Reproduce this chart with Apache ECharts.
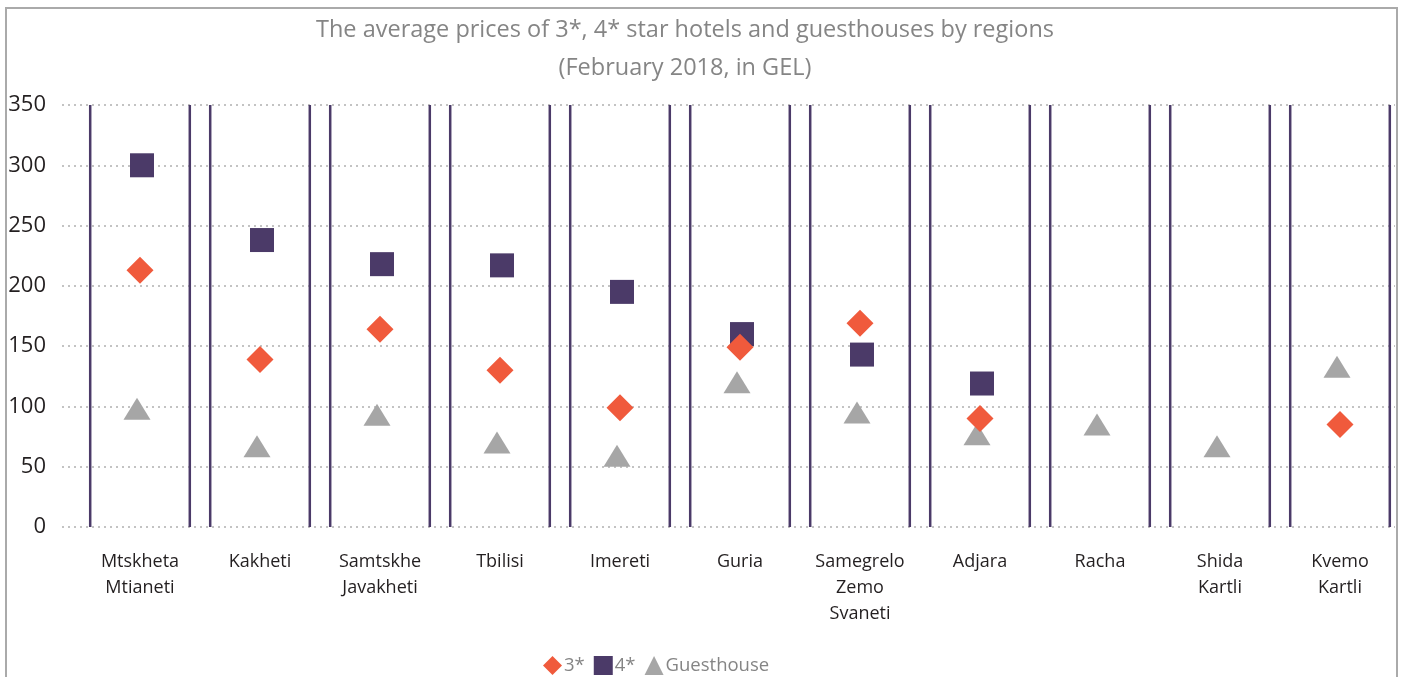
<!DOCTYPE html>
<html>
<head>
<meta charset="utf-8">
<script src="https://cdn.jsdelivr.net/npm/echarts@6/dist/echarts.min.js"></script>
<style>
  html, body { margin: 0; padding: 0; background: #fff; }
  #chart { width: 1401px; height: 677px; }
</style>
</head>
<body>
<div id="chart"></div>
<script>
const regions = [
  'Mtskheta\nMtianeti', 'Kakheti', 'Samtskhe\nJavakheti', 'Tbilisi', 'Imereti', 'Guria',
  'Samegrelo\nZemo\nSvaneti', 'Adjara', 'Racha', 'Shida\nKartli', 'Kvemo\nKartli',
];
const star3 = [213, 139, 164, 130, 99, 149, 169, 90, null, null, 85];
const star4 = [300, 238, 218, 217, 195, 160, 143, 119, null, null, null];
const guesthouse = [98, 67, 93, 70, 59, 120, 95, 77, 85, 67, 133];
const yTicks = { min: 0, max: 350, interval: 50 };

const purple = '#4b3a68';
const orange = '#f05a3c';
const grey = '#a6a6a6';

const chart = echarts.init(document.getElementById('chart'));

// vertical bracket lines, one pair per region, spanning the full value range
function renderFrame(params, api) {
  const c = api.coord([api.value(0), yTicks.max]);
  const b = api.coord([api.value(0), yTicks.min]);
  const half = api.size([1, 0])[0] * 0.415;
  const style = { stroke: purple, lineWidth: 2.5 };
  return {
    type: 'group',
    children: [
      { type: 'line', shape: { x1: c[0] - half, y1: c[1], x2: c[0] - half, y2: b[1] }, style },
      { type: 'line', shape: { x1: c[0] + half, y1: c[1], x2: c[0] + half, y2: b[1] }, style },
    ],
  };
}

chart.setOption({
  animation: false,
  textStyle: { fontFamily: 'Open Sans' },
  title: {
    text: 'The average prices of 3*, 4* star hotels and guesthouses by regions\n(February 2018, in GEL)',
    left: 680,
    textAlign: 'center',
    top: 6,
    textStyle: { color: '#858585', fontSize: 23.5, fontWeight: 'normal', lineHeight: 38, fontFamily: 'Open Sans' },
  },
  legend: {
    bottom: -3,
    left: 538,
    itemGap: 9,
    itemWidth: 19,
    itemHeight: 19,
    textStyle: { color: '#858585', fontSize: 18.5, padding: [0, 0, 0, -3] },
    data: ['3*', '4*', 'Guesthouse'],
  },
  graphic: [{
    type: 'rect',
    shape: { x: 6, y: 8, width: 1391, height: 690 },
    style: { fill: 'none', stroke: '#aaaaaa', lineWidth: 2 },
    silent: true,
  }],
  grid: [
    { left: 80, right: 1, top: 105, bottom: 150 },
    { left: 62, right: 6, top: 105, bottom: 150 },
  ],
  xAxis: [
    {
      type: 'category',
      data: regions,
      gridIndex: 0,
      axisLine: { show: false },
      axisTick: { show: false },
      axisLabel: { color: '#231f20', fontSize: 18, lineHeight: 26, margin: 22 },
    },
    { type: 'value', gridIndex: 1, show: false },
  ],
  yAxis: [
    {
      type: 'value',
      gridIndex: 0,
      min: yTicks.min, max: yTicks.max, interval: yTicks.interval,
      axisLine: { show: false },
      axisTick: { show: false },
      axisLabel: { show: false },
      splitLine: { show: false },
    },
    {
      type: 'value',
      gridIndex: 1,
      min: yTicks.min, max: yTicks.max, interval: yTicks.interval,
      axisLine: { show: false },
      axisTick: { show: false },
      axisLabel: { color: '#231f20', fontSize: 22, margin: 16 },
      splitLine: { lineStyle: { color: '#b0b0b0', type: [2, 4], width: 1.5 } },
    },
  ],
  series: [
    {
      type: 'custom',
      renderItem: renderFrame,
      data: regions.map((r, i) => [i]),
      encode: { x: 0 },
      silent: true,
      z: 1,
    },
    {
      name: 'Guesthouse',
      type: 'scatter',
      data: guesthouse,
      symbol: 'triangle',
      symbolSize: [27, 22],
      symbolOffset: [-3, 0],
      itemStyle: { color: grey, opacity: 1 },
      z: 2,
    },
    {
      name: '4*',
      type: 'scatter',
      data: star4,
      symbol: 'rect',
      symbolSize: 24,
      symbolOffset: [2, 0],
      itemStyle: { color: purple, opacity: 1 },
      z: 3,
    },
    {
      name: '3*',
      type: 'scatter',
      data: star3,
      symbol: 'diamond',
      symbolSize: 27,
      itemStyle: { color: orange, opacity: 1 },
      z: 4,
    },
  ],
});
</script>
</body>
</html>
